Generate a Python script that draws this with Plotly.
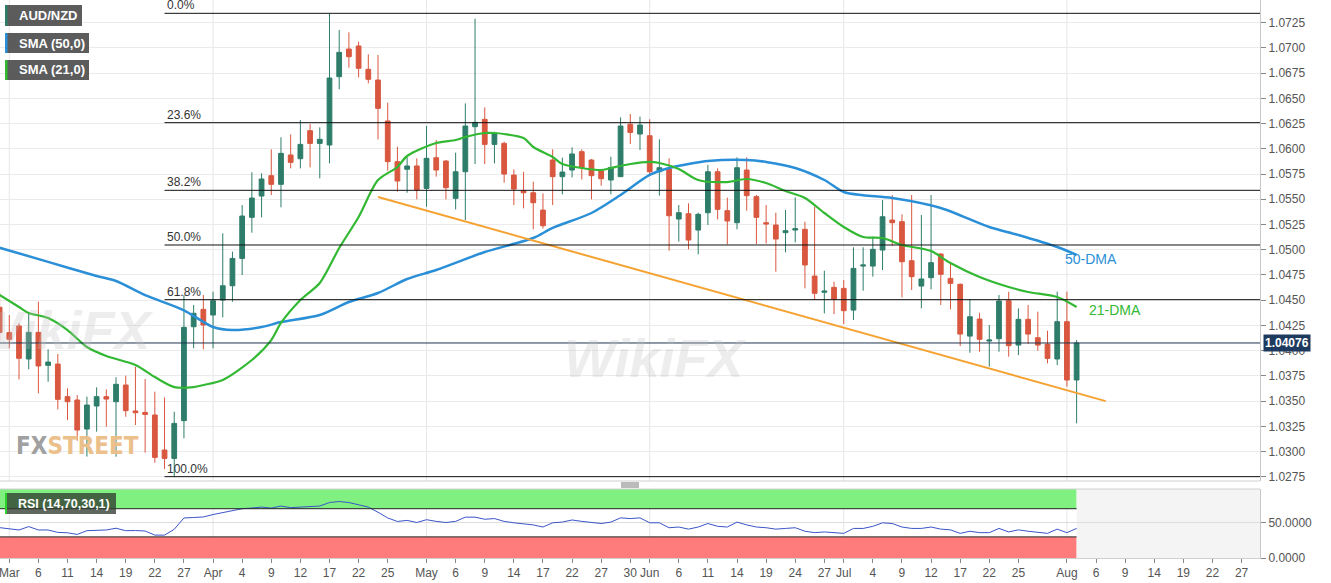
import pandas as pd
import plotly.graph_objects as go

# ---------------- data ----------------
dates = pd.bdate_range("2019-02-28", "2019-08-02")  # trading days shown

opens = [1.0443, 1.04178, 1.04244, 1.03917, 1.04181, 1.03854, 1.03867, 1.03544, 1.03511, 1.03223,
         1.03451, 1.03544, 1.03494, 1.03659, 1.03402, 1.03388, 1.03362, 1.03015, 1.02932, 1.03306,
         1.04237, 1.04409, 1.04353, 1.04501, 1.04643, 1.04914, 1.05321, 1.05532, 1.05734, 1.05648,
         1.05939, 1.05902, 1.06180, 1.06054, 1.06038, 1.06715, 1.06989, 1.07019, 1.06788, 1.06682,
         1.06276, 1.05873, 1.05797, 1.05830, 1.05608, 1.05912, 1.05879, 1.05509, 1.05773, 1.06219,
         1.06292, 1.06044, 1.06054, 1.05740, 1.05585, 1.05565, 1.05393, 1.05889, 1.05724, 1.05790,
         1.05972, 1.05889, 1.05780, 1.05691, 1.05724, 1.06243, 1.06147, 1.06130, 1.05773, 1.05800,
         1.05304, 1.05357, 1.05195, 1.05367, 1.05773, 1.05387, 1.05268, 1.05790, 1.05526, 1.05268,
         1.05245, 1.05169, 1.05195, 1.05202, 1.04739, 1.04578, 1.04627, 1.04617, 1.04402, 1.04838,
         1.04838, 1.04997, 1.05294, 1.05278, 1.04891, 1.04640, 1.04723, 1.04957, 1.04716, 1.04657,
         1.04144, 1.04313, 1.04095, 1.04118, 1.04495, 1.04055, 1.04310, 1.04128, 1.04065, 1.03917,
         1.04287, 1.03709]
highs = [1.0458, 1.04353, 1.04270, 1.04370, 1.04485, 1.04013, 1.03967, 1.03626, 1.03560, 1.03544,
         1.03636, 1.03616, 1.03735, 1.03752, 1.03841, 1.03719, 1.03593, 1.03537, 1.03395, 1.04551,
         1.04452, 1.04551, 1.04584, 1.05162, 1.04981, 1.05443, 1.05767, 1.05757, 1.05995, 1.06114,
         1.06143, 1.06286, 1.06246, 1.06213, 1.07343, 1.07178, 1.07155, 1.07062, 1.06936, 1.06930,
         1.06457, 1.06021, 1.05916, 1.05906, 1.06226, 1.06087, 1.05889, 1.05962, 1.06450, 1.07290,
         1.06411, 1.06170, 1.06071, 1.05796, 1.05773, 1.05674, 1.05558, 1.05995, 1.05912, 1.06015,
         1.05995, 1.05899, 1.05790, 1.05922, 1.06312, 1.06345, 1.06319, 1.06292, 1.06094, 1.05906,
         1.05443, 1.05460, 1.05367, 1.05840, 1.05807, 1.05516, 1.05916, 1.05916, 1.05543, 1.05443,
         1.05367, 1.05394, 1.05519, 1.05278, 1.05427, 1.04792, 1.04683, 1.04700, 1.05024, 1.05024,
         1.05130, 1.05493, 1.05542, 1.05351, 1.05542, 1.05344, 1.05542, 1.04967, 1.04881, 1.04667,
         1.04508, 1.04376, 1.04254, 1.04551, 1.04584, 1.04419, 1.04452, 1.04386, 1.04197, 1.04584,
         1.04584, 1.04105]
lows = [1.0410, 1.04023, 1.03715, 1.03815, 1.03577, 1.03692, 1.03418, 1.03312, 1.03107, 1.02950,
        1.03197, 1.03246, 1.02949, 1.03345, 1.03263, 1.02989, 1.02889, 1.02827, 1.02751, 1.03131,
        1.04023, 1.04013, 1.04023, 1.04330, 1.04485, 1.04749, 1.05169, 1.05321, 1.05542, 1.05420,
        1.05806, 1.05806, 1.05816, 1.05707, 1.05856, 1.06590, 1.06804, 1.06708, 1.06649, 1.06094,
        1.05783, 1.05575, 1.05565, 1.05499, 1.05426, 1.05724, 1.05499, 1.05400, 1.05294, 1.05849,
        1.05849, 1.05856, 1.05664, 1.05443, 1.05410, 1.05202, 1.05211, 1.05443, 1.05549, 1.05717,
        1.05697, 1.05499, 1.05634, 1.05549, 1.05724, 1.06048, 1.05988, 1.05740, 1.05536, 1.04991,
        1.05080, 1.05004, 1.04954, 1.05245, 1.05301, 1.05053, 1.05202, 1.05387, 1.05057, 1.05063,
        1.04782, 1.04974, 1.05073, 1.04617, 1.04502, 1.04369, 1.04362, 1.04264, 1.04303, 1.04594,
        1.04733, 1.04799, 1.05037, 1.04528, 1.04601, 1.04419, 1.04607, 1.04452, 1.04409, 1.04045,
        1.03979, 1.03989, 1.03841, 1.03989, 1.03940, 1.03956, 1.04065, 1.03999, 1.03874, 1.03857,
        1.03643, 1.03279]
closes = [1.0418, 1.04112, 1.03924, 1.04181, 1.03848, 1.03887, 1.03517, 1.03494, 1.03213, 1.03461,
          1.03544, 1.03520, 1.03666, 1.03405, 1.03385, 1.03368, 1.02942, 1.02932, 1.03279, 1.04231,
          1.04370, 1.04254, 1.04495, 1.04643, 1.04914, 1.05334, 1.05512, 1.05701, 1.05648, 1.05955,
          1.05866, 1.06044, 1.06054, 1.06094, 1.06702, 1.06956, 1.06913, 1.06798, 1.06689, 1.06401,
          1.05873, 1.05681, 1.05830, 1.05592, 1.05906, 1.05790, 1.05615, 1.05773, 1.06226, 1.06262,
          1.06044, 1.06153, 1.05750, 1.05601, 1.05565, 1.05466, 1.05238, 1.05724, 1.05770, 1.05949,
          1.05816, 1.05734, 1.05704, 1.05816, 1.06226, 1.06163, 1.06236, 1.05773, 1.05813, 1.05337,
          1.05367, 1.05096, 1.05351, 1.05773, 1.05400, 1.05285, 1.05813, 1.05536, 1.05321, 1.05255,
          1.05106, 1.05189, 1.05209, 1.04849, 1.04568, 1.04591, 1.04512, 1.04396, 1.04815, 1.04849,
          1.05004, 1.05327, 1.05268, 1.04881, 1.04733, 1.04710, 1.04872, 1.04756, 1.04667, 1.04164,
          1.04336, 1.04112, 1.04105, 1.04492, 1.04049, 1.04310, 1.04164, 1.04055, 1.03923, 1.04287,
          1.03709, 1.04076]

sma50_dates = ["2019-02-28", "2019-03-07", "2019-03-14", "2019-03-18", "2019-03-21", "2019-03-27",
               "2019-04-01", "2019-04-03", "2019-04-08", "2019-04-10", "2019-04-16", "2019-04-19",
               "2019-04-24", "2019-04-29", "2019-05-02", "2019-05-09", "2019-05-16", "2019-05-20",
               "2019-05-24", "2019-05-29", "2019-06-03", "2019-06-05", "2019-06-07", "2019-06-11",
               "2019-06-17", "2019-06-19", "2019-06-24", "2019-06-27", "2019-07-01", "2019-07-03",
               "2019-07-08", "2019-07-15", "2019-07-22", "2019-07-25", "2019-07-31", "2019-08-02"]
sma50 = [1.0502, 1.0488, 1.0474, 1.0469, 1.0455, 1.0440, 1.04234, 1.04204, 1.04234, 1.04283,
         1.04353, 1.04482, 1.04571, 1.04710, 1.04799, 1.04977, 1.05116, 1.05216, 1.05364, 1.05543,
         1.05741, 1.05810, 1.05850, 1.05880, 1.05890, 1.05870, 1.05810, 1.05691, 1.05572, 1.05540,
         1.05513, 1.05414, 1.05225, 1.05146, 1.05027, 1.04948]

sma21_dates = ["2019-02-28", "2019-03-04", "2019-03-05", "2019-03-07", "2019-03-11", "2019-03-13",
               "2019-03-15", "2019-03-20", "2019-03-22", "2019-03-26", "2019-03-28", "2019-03-29",
               "2019-04-02", "2019-04-05", "2019-04-09", "2019-04-10", "2019-04-12", "2019-04-16",
               "2019-04-18", "2019-04-22", "2019-04-24", "2019-04-26", "2019-04-29", "2019-05-02",
               "2019-05-06", "2019-05-07", "2019-05-09", "2019-05-10", "2019-05-13", "2019-05-15",
               "2019-05-16", "2019-05-20", "2019-05-21", "2019-05-23", "2019-05-27", "2019-05-28",
               "2019-05-30", "2019-06-03", "2019-06-04", "2019-06-06", "2019-06-10", "2019-06-13",
               "2019-06-17", "2019-06-19", "2019-06-21", "2019-06-25", "2019-06-27", "2019-07-01",
               "2019-07-03", "2019-07-05", "2019-07-09", "2019-07-12", "2019-07-16", "2019-07-19",
               "2019-07-24", "2019-07-26", "2019-07-31", "2019-08-02"]
sma21 = [1.04551, 1.04432, 1.04373, 1.04323, 1.04204, 1.04036, 1.03947, 1.03857, 1.03738, 1.03639,
         1.03639, 1.03659, 1.03709, 1.03907, 1.04105, 1.04274, 1.04502, 1.04670, 1.05017, 1.05324,
         1.05691, 1.05820, 1.05929, 1.06058, 1.06087, 1.06117, 1.06157, 1.06157, 1.06147, 1.06107,
         1.06018, 1.05919, 1.05850, 1.05810, 1.05790, 1.05810, 1.05850, 1.05870, 1.05860, 1.05800,
         1.05691, 1.05671, 1.05701, 1.05661, 1.05582, 1.05513, 1.05364, 1.05225, 1.05126, 1.05116,
         1.05047, 1.04987, 1.04868, 1.04729, 1.04630, 1.04581, 1.04531, 1.04432]

rsi = [43.1, 41.0, 39.8, 44.6, 39.8, 39.8, 36.4, 35.8, 33.5, 38.8,
       39.8, 39.8, 42.3, 38.8, 39.0, 38.3, 32.5, 32.5, 40.8, 56.9,
       57.5, 58.3, 61.7, 64.2, 67.0, 70.0, 71.0, 72.3, 70.9, 73.8,
       71.5, 72.5, 73.8, 73.8, 78.8, 80.2, 78.8, 76.0, 72.3, 65.0,
       56.9, 51.9, 53.4, 50.4, 54.4, 52.0, 50.4, 52.0, 58.0, 58.0,
       55.0, 56.0, 52.0, 50.0, 49.0, 47.0, 44.0, 50.0, 51.0, 54.0,
       52.0, 50.0, 49.0, 51.0, 57.0, 56.0, 57.0, 50.0, 50.0, 43.0,
       44.0, 41.0, 44.0, 49.0, 45.0, 44.0, 51.0, 47.0, 44.0, 43.0,
       41.0, 42.0, 43.0, 38.0, 36.0, 37.0, 36.0, 35.0, 42.0, 42.0,
       45.0, 50.0, 49.0, 44.0, 42.0, 42.0, 44.0, 41.0, 40.0, 35.0,
       38.0, 36.0, 36.0, 42.0, 37.0, 40.0, 38.0, 37.0, 35.0, 41.0,
       36.0, 42.0]

trend_dates = ["2019-04-24", "2019-08-07"]
trend_vals = [1.05522, 1.03500]

fib_levels = [0.0, 23.6, 38.2, 50.0, 61.8, 100.0]
fib_start = "2019-03-25"

tick_dates = ["2019-03-01", "2019-03-06", "2019-03-11", "2019-03-14", "2019-03-19", "2019-03-22",
              "2019-03-27", "2019-04-01", "2019-04-04", "2019-04-09", "2019-04-12", "2019-04-17",
              "2019-04-22", "2019-04-25", "2019-05-01", "2019-05-06", "2019-05-09", "2019-05-14",
              "2019-05-17", "2019-05-22", "2019-05-27", "2019-05-30", "2019-06-03", "2019-06-06",
              "2019-06-11", "2019-06-14", "2019-06-19", "2019-06-24", "2019-06-27", "2019-07-01",
              "2019-07-04", "2019-07-09", "2019-07-12", "2019-07-17", "2019-07-22", "2019-07-25",
              "2019-08-01", "2019-08-06", "2019-08-09", "2019-08-14", "2019-08-19", "2019-08-22",
              "2019-08-27"]
tick_text = ["Mar", "6", "11", "14", "19", "22", "27", "Apr", "4", "9", "12", "17", "22", "25",
             "May", "6", "9", "14", "17", "22", "27", "30", "Jun", "6", "11", "14", "19", "24", "27",
             "Jul", "4", "9", "12", "17", "22", "25", "Aug", "6", "9", "14", "19", "22", "27"]
month_starts = ["2019-03-01", "2019-04-01", "2019-05-01", "2019-06-03", "2019-07-01", "2019-08-01"]

last_price = closes[-1]

# ---------------- styling ----------------
W, H = 1331, 583
ML, MR, MT, MB = 0, 71, 0, 25
PW, PH = W - ML - MR, H - MT - MB
X_RANGE = ["2019-02-28 01:00", "2019-08-28 21:36"]
Y_RANGE = [1.02708, 1.07475]
GREEN = "#2E7D6A"
RED = "#D9573F"
BLUE_MA = "#2B8FD8"
GREEN_MA = "#33B833"
ORANGE = "#F5A231"
FONT = "Arial, Liberation Sans, sans-serif"
AXIS_FONT = dict(family=FONT, size=12, color="#555555")


def px(x):
    return x / PW


def py(y):
    return 1 - y / PH


main_dom = [py(481), 1]
rsi_dom = [0, py(489)]

fig = go.Figure()

fig.add_trace(go.Candlestick(
    x=dates, open=opens, high=highs, low=lows, close=closes,
    increasing=dict(line=dict(color=GREEN, width=1), fillcolor=GREEN),
    decreasing=dict(line=dict(color=RED, width=1), fillcolor=RED),
    whiskerwidth=0, showlegend=False, hoverinfo="skip", xaxis="x", yaxis="y"))

fig.add_trace(go.Scatter(x=sma50_dates, y=sma50, mode="lines",
                         line=dict(color=BLUE_MA, width=2.5, shape="spline", smoothing=0.8),
                         showlegend=False, hoverinfo="skip", xaxis="x", yaxis="y"))
fig.add_trace(go.Scatter(x=sma21_dates, y=sma21, mode="lines",
                         line=dict(color=GREEN_MA, width=2.2, shape="spline", smoothing=0.8),
                         showlegend=False, hoverinfo="skip", xaxis="x", yaxis="y"))
fig.add_trace(go.Scatter(x=trend_dates, y=trend_vals, mode="lines",
                         line=dict(color=ORANGE, width=2),
                         showlegend=False, hoverinfo="skip", xaxis="x", yaxis="y"))

fig.add_trace(go.Scatter(x=dates, y=rsi, mode="lines",
                         line=dict(color="#3A55C8", width=1),
                         showlegend=False, hoverinfo="skip", xaxis="x2", yaxis="y2"))

shapes = []
annotations = []

# faint watermarks
for wx, wy in ((62, 330), (655, 358)):
    annotations.append(dict(xref="paper", yref="paper", x=px(wx), y=py(wy), text="<b><i>WikiFX</i></b>",
                            showarrow=False, xanchor="center", yanchor="middle",
                            font=dict(family=FONT, size=54, color="rgba(190,190,190,0.28)")))

# month grid lines
for d in month_starts:
    for xr, yr in (("x", "y"), ("x2", "y2")):
        shapes.append(dict(type="line", xref=xr, yref=yr + " domain", x0=d, x1=d, y0=0, y1=1,
                           line=dict(color="#E6E6E6", width=1), layer="below"))

# fibonacci lines
fib_hi, fib_lo = max(highs), min(lows)
for lv in fib_levels:
    val = fib_hi - (fib_hi - fib_lo) * lv / 100.0
    shapes.append(dict(type="line", xref="x", yref="y", x0=fib_start, x1=X_RANGE[1], y0=val, y1=val,
                       line=dict(color="#111111", width=1)))
    annotations.append(dict(xref="x", yref="y", x=fib_start, y=val, text=f"{lv:.1f}%",
                            showarrow=False, xanchor="left", yanchor="bottom", yshift=-1,
                            font=dict(family=FONT, size=12, color="#333333")))

# current price line
shapes.append(dict(type="line", xref="paper", yref="y", x0=0, x1=1, y0=last_price, y1=last_price,
                   line=dict(color="#1F3350", width=1)))

# RSI zones
last_day = dates[-1]
shapes.append(dict(type="rect", xref="x2", yref="y2", x0=X_RANGE[0], x1=last_day, y0=70, y1=98,
                   fillcolor="#80F080", line=dict(width=0), layer="below"))
shapes.append(dict(type="rect", xref="x2", yref="y2", x0=X_RANGE[0], x1=last_day, y0=0, y1=30,
                   fillcolor="#FF7C7C", line=dict(width=0), layer="below"))
shapes.append(dict(type="rect", xref="x2", yref="y2", x0=last_day, x1=X_RANGE[1], y0=0, y1=98,
                   fillcolor="#F4F4F4", line=dict(width=0), layer="below"))
for lv in (70, 30):
    shapes.append(dict(type="line", xref="x2", yref="y2", x0=X_RANGE[0], x1=last_day, y0=lv, y1=lv,
                       line=dict(color="#222222", width=1)))

# panel borders / separator
shapes.append(dict(type="line", xref="paper", yref="paper", x0=0, x1=1, y0=py(481), y1=py(481),
                   line=dict(color="#D0D0D0", width=1)))
shapes.append(dict(type="line", xref="paper", yref="paper", x0=0, x1=1, y0=py(489), y1=py(489),
                   line=dict(color="#D0D0D0", width=1)))
for yy in (483, 485, 487):
    shapes.append(dict(type="line", xref="paper", yref="paper", x0=px(621), x1=px(639),
                       y0=py(yy), y1=py(yy), line=dict(color="#777777", width=1)))

# legend boxes
boxes = [("AUD/NZD", 5, 82, 5, 26, GREEN), ("SMA (50,0)", 5, 89, 33, 53, BLUE_MA),
         ("SMA (21,0)", 5, 89, 60, 80, GREEN_MA)]
for text, x0, x1, y0, y1, col in boxes:
    shapes.append(dict(type="rect", xref="paper", yref="paper", x0=px(x0), x1=px(x1), y0=py(y1), y1=py(y0),
                       fillcolor="rgba(70,70,70,0.88)", line=dict(width=0)))
    shapes.append(dict(type="rect", xref="paper", yref="paper", x0=px(x0), x1=px(x0 + 2.5), y0=py(y1), y1=py(y0),
                       fillcolor=col, line=dict(width=0)))
    annotations.append(dict(xref="paper", yref="paper", x=px(x0 + 12), y=py((y0 + y1) / 2), text=f"<b>{text}</b>",
                            showarrow=False, xanchor="left", yanchor="middle",
                            font=dict(family=FONT, size=13, color="white")))
# RSI label
shapes.append(dict(type="rect", xref="paper", yref="paper", x0=px(5), x1=px(116), y0=py(514), y1=py(493),
                   fillcolor="rgba(50,60,50,0.78)", line=dict(width=0)))
shapes.append(dict(type="rect", xref="paper", yref="paper", x0=px(5), x1=px(7), y0=py(514), y1=py(493),
                   fillcolor="#2BD02B", line=dict(width=0)))
annotations.append(dict(xref="paper", yref="paper", x=px(16), y=py(503.5), text="<b>RSI (14,70,30,1)</b>",
                        showarrow=False, xanchor="left", yanchor="middle",
                        font=dict(family=FONT, size=12.5, color="white")))

# MA labels
annotations.append(dict(xref="paper", yref="paper", x=px(1063), y=py(259), text="50-DMA", showarrow=False,
                        xanchor="left", yanchor="middle", font=dict(family=FONT, size=14, color=BLUE_MA)))
annotations.append(dict(xref="paper", yref="paper", x=px(1087), y=py(310), text="21-DMA", showarrow=False,
                        xanchor="left", yanchor="middle", font=dict(family=FONT, size=14, color=GREEN_MA)))

# last price tag
annotations.append(dict(xref="paper", yref="y", x=1, y=last_price, text=f"<b>{last_price:.5f}</b>",
                        showarrow=False, xanchor="left", yanchor="middle", xshift=3,
                        bgcolor="#1E3A5F", borderpad=1,
                        font=dict(family=FONT, size=12, color="white")))

# FXSTREET watermark
annotations.append(dict(xref="paper", yref="paper", x=px(14), y=py(446),
                        text='<b><span style="color:#A0A0A0">FX</span><span style="color:#EBC08A">STREET</span></b>',
                        showarrow=False, xanchor="left", yanchor="middle",
                        font=dict(family="Liberation Sans Narrow, DejaVu Sans Condensed, Arial Narrow, sans-serif",
                                  size=24)))

fig.update_layout(
    width=W, height=H, margin=dict(l=ML, r=MR, t=MT, b=MB),
    paper_bgcolor="white", plot_bgcolor="white", showlegend=False,
    shapes=shapes, annotations=annotations,
    xaxis=dict(domain=[0, 1], anchor="y", range=X_RANGE, rangebreaks=[dict(bounds=["sat", "mon"])],
               showgrid=False, showticklabels=False, zeroline=False, rangeslider=dict(visible=False),
               fixedrange=True),
    yaxis=dict(domain=main_dom, anchor="x", side="right", range=Y_RANGE, tick0=1.0275, dtick=0.0025,
               tickformat=".4f", ticks="outside", ticklen=5, tickcolor="#888888",
               showgrid=True, gridcolor="#EBEBEB", gridwidth=1, zeroline=False,
               showline=True, linecolor="#C8C8C8", tickfont=AXIS_FONT, fixedrange=True),
    xaxis2=dict(domain=[0, 1], anchor="y2", matches="x", range=X_RANGE,
                rangebreaks=[dict(bounds=["sat", "mon"])],
                tickmode="array", tickvals=tick_dates, ticktext=tick_text, ticks="outside", ticklen=4,
                tickcolor="#888888", showgrid=False, zeroline=False, tickfont=AXIS_FONT,
                ticklabeloverflow="allow",
                showline=True, linecolor="#D0D0D0", fixedrange=True),
    yaxis2=dict(domain=rsi_dom, anchor="x2", side="right", range=[0, 98], tickmode="array",
                tickvals=[0, 50], ticktext=["0.0000", "50.0000"], ticks="outside", ticklen=5,
                tickcolor="#888888", showgrid=True, gridcolor="#DDDDDD", zeroline=False,
                showline=True, linecolor="#C8C8C8", tickfont=AXIS_FONT, fixedrange=True),
)

fig.write_html("out.html", config={"displayModeBar": False},
               post_script="document.body.style.margin='0px';")
